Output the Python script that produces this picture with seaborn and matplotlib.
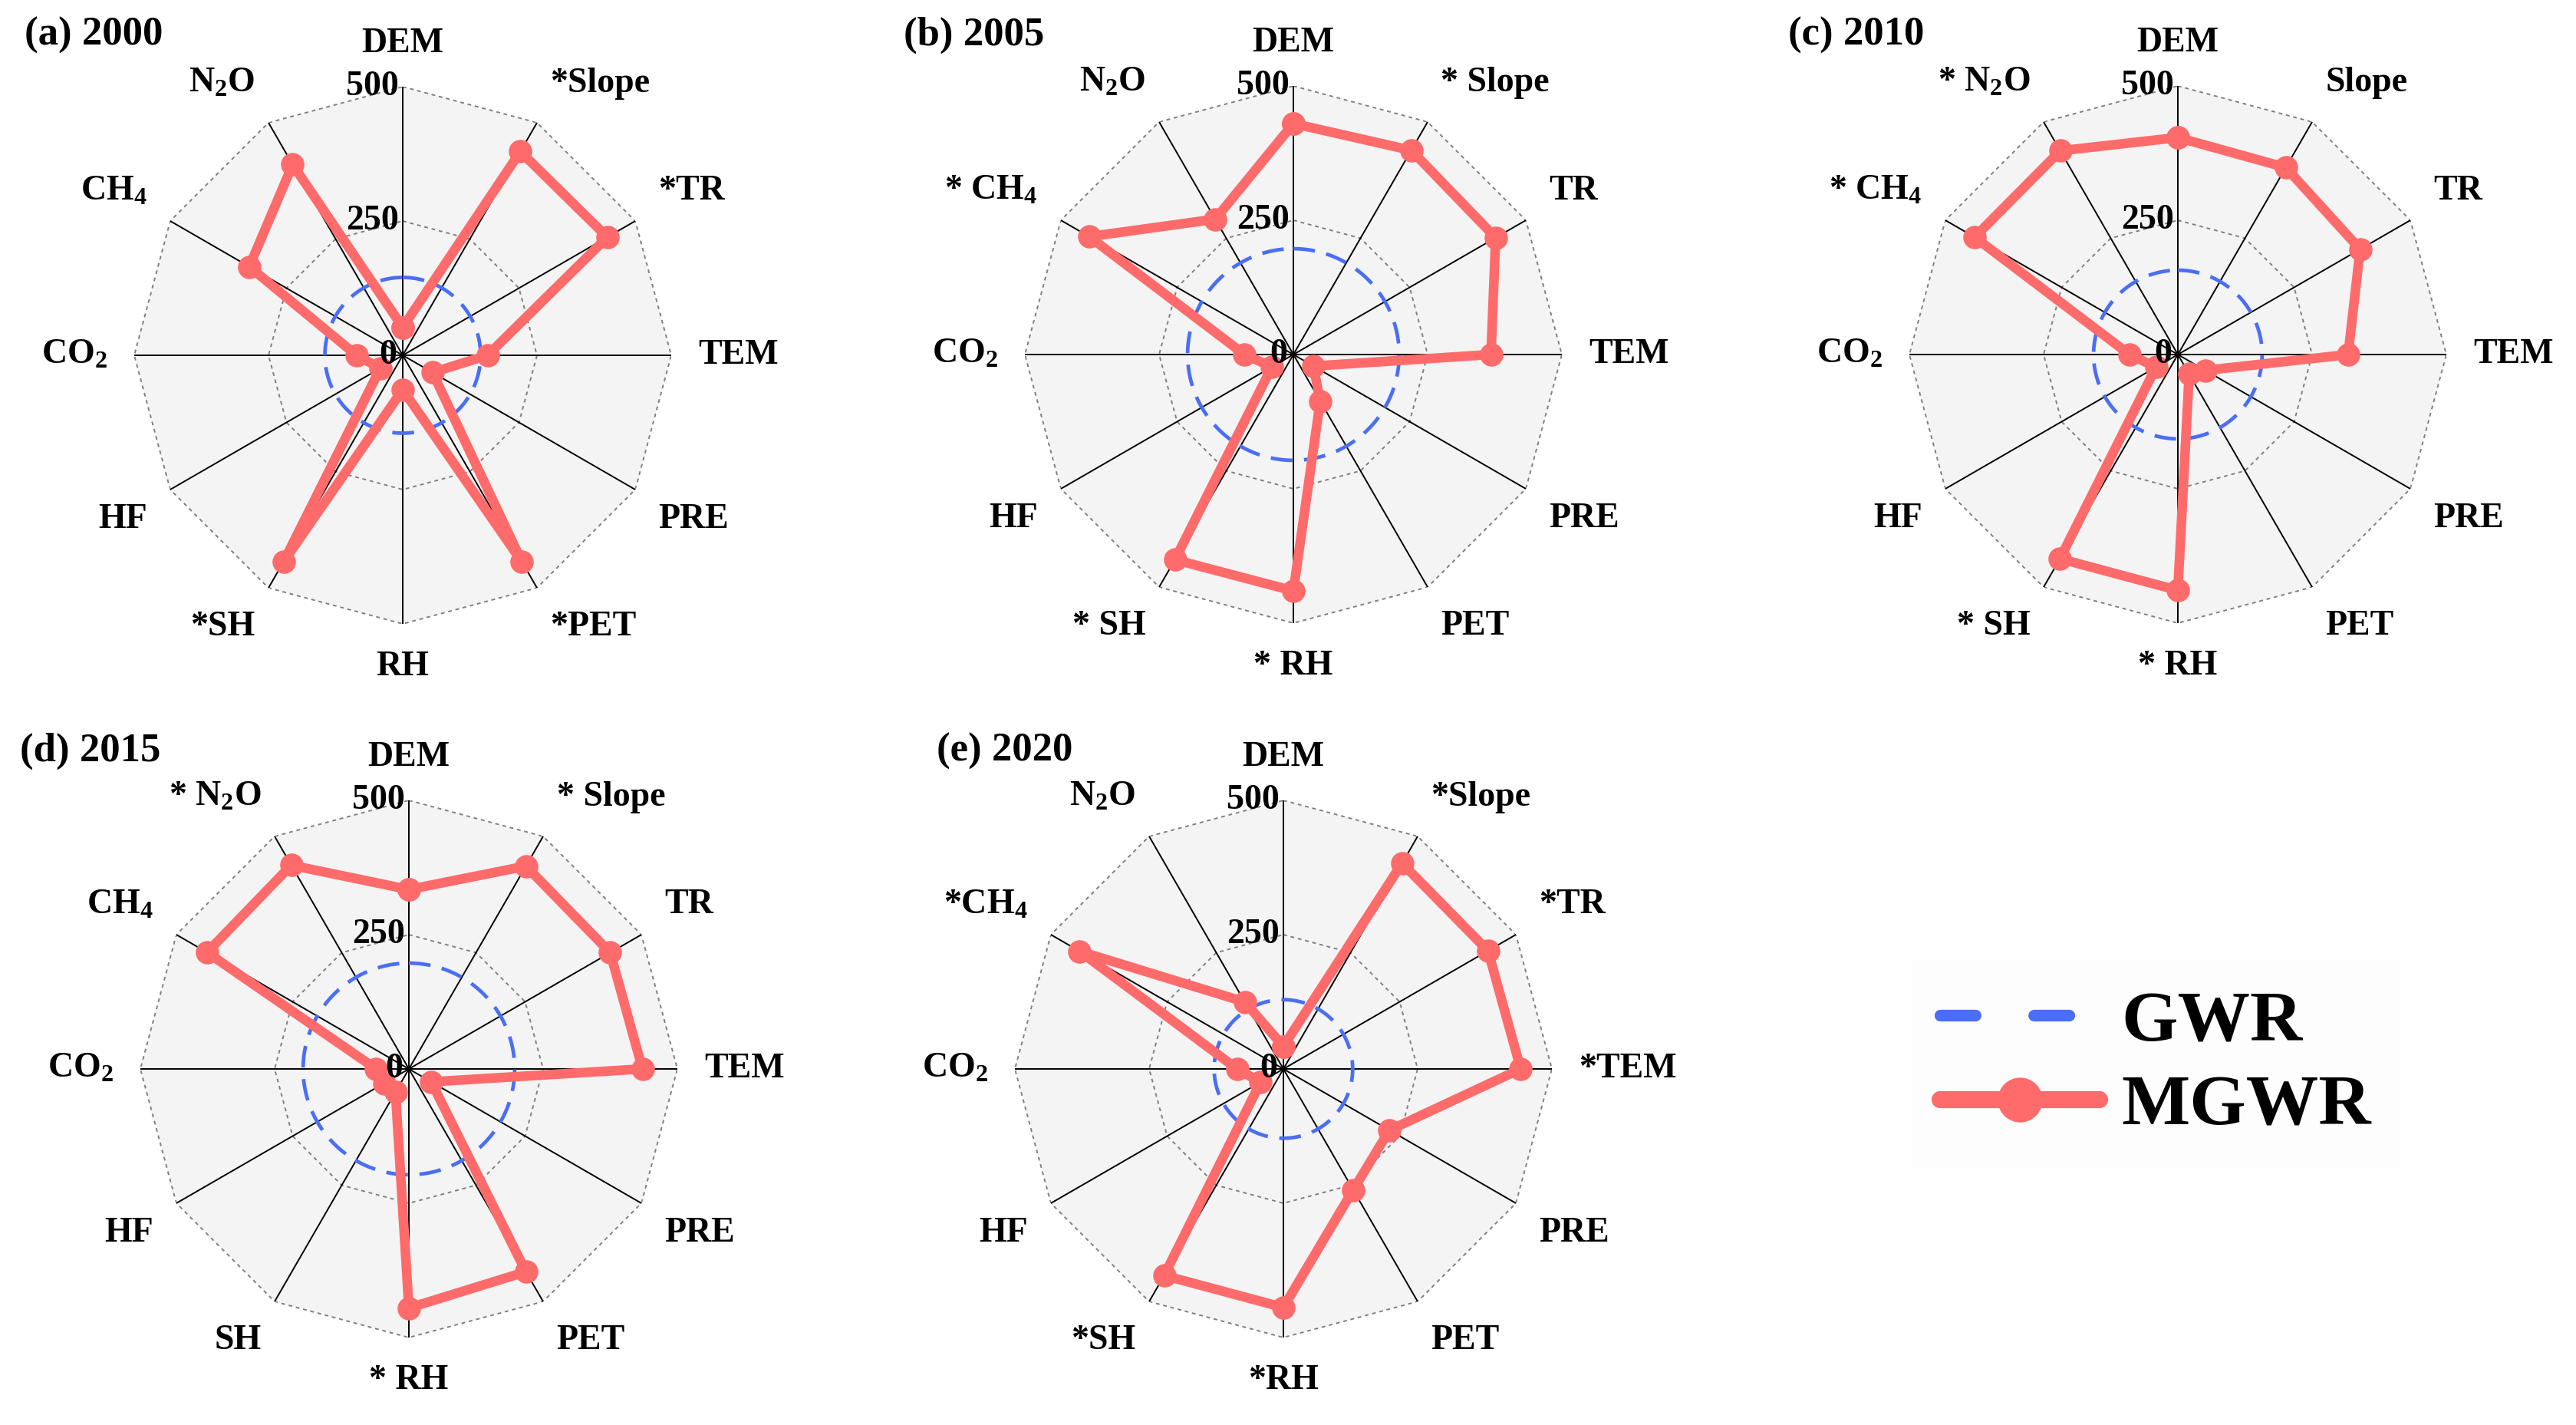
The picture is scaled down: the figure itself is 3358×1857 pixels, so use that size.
import numpy as np
import pandas as pd
import seaborn as sns
import matplotlib.pyplot as plt
from matplotlib.lines import Line2D

# factor order, clockwise from the top
factors = ['DEM', 'Slope', 'TR', 'TEM', 'PRE', 'PET', 'RH', 'SH', 'HF', 'CO2', 'CH4', 'N2O']

titles = ['(a) 2000', '(b) 2005', '(c) 2010', '(d) 2015', '(e) 2020']

labels_2000 = ['DEM', '*Slope', '*TR', 'TEM', 'PRE', '*PET', 'RH', '*SH', 'HF', 'CO$_2$', 'CH$_4$', 'N$_2$O']
labels_2005 = ['DEM', '* Slope', 'TR', 'TEM', 'PRE', 'PET', '* RH', '* SH', 'HF', 'CO$_2$', '* CH$_4$', 'N$_2$O']
labels_2010 = ['DEM', 'Slope', 'TR', 'TEM', 'PRE', 'PET', '* RH', '* SH', 'HF', 'CO$_2$', '* CH$_4$', '* N$_2$O']
labels_2015 = ['DEM', '* Slope', 'TR', 'TEM', 'PRE', 'PET', '* RH', 'SH', 'HF', 'CO$_2$', 'CH$_4$', '* N$_2$O']
labels_2020 = ['DEM', '*Slope', '*TR', '*TEM', 'PRE', 'PET', '*RH', '*SH', 'HF', 'CO$_2$', '*CH$_4$', 'N$_2$O']

# MGWR bandwidths per factor
mgwr_2000 = [52, 438, 440, 158, 64, 444, 64, 443, 48, 86, 330, 410]
mgwr_2005 = [430, 439, 435, 368, 43, 100, 440, 441, 46, 91, 439, 291]
mgwr_2010 = [404, 402, 392, 317, 59, 42, 439, 439, 47, 90, 437, 438]
mgwr_2015 = [334, 436, 433, 435, 48, 436, 445, 50, 53, 61, 434, 438]
mgwr_2020 = [42, 442, 440, 442, 228, 260, 444, 444, 49, 86, 438, 144]

# GWR uses one bandwidth for all factors
gwr = [145, 197, 157, 197, 129]

all_labels = [labels_2000, labels_2005, labels_2010, labels_2015, labels_2020]
all_mgwr = [mgwr_2000, mgwr_2005, mgwr_2010, mgwr_2015, mgwr_2020]

# panel centres in pixels of the 3358x1857 canvas
centres = [(525, 463), (1686, 462), (2839, 462), (533, 1393), (1673, 1393)]
title_pos = [(32, 22), (1178, 22), (2331, 22), (26, 955), (1221, 955)]

red = '#ff6b6b'
blue = '#4a6ef5'

sns.set_theme(style='white')
plt.rcParams['font.family'] = ['Liberation Serif', 'DejaVu Serif']
plt.rcParams['font.weight'] = 'bold'
plt.rcParams['text.color'] = 'black'
plt.rcParams['mathtext.fontset'] = 'custom'
plt.rcParams['mathtext.rm'] = 'Liberation Serif:bold'
plt.rcParams['mathtext.it'] = 'Liberation Serif:bold:italic'
plt.rcParams['mathtext.bf'] = 'Liberation Serif:bold'
plt.rcParams['mathtext.default'] = 'rm'

W, H = 3358, 1857
fig = plt.figure(figsize=(W / 200, H / 200), dpi=200)
fig.patch.set_facecolor('white')

angles = np.deg2rad(np.arange(len(factors)) * 30.0)
closed = np.append(angles, 2 * np.pi)
dense = np.linspace(0, 2 * np.pi, 361)

# alignment of the factor names around the web
align = {0: ('center', 'bottom'), 30: ('left', 'bottom'), 60: ('left', 'bottom'),
         90: ('left', 'center'), 120: ('left', 'top'), 150: ('left', 'top'),
         180: ('center', 'top'), 210: ('right', 'top'), 240: ('right', 'top'),
         270: ('right', 'center'), 300: ('right', 'bottom'), 330: ('right', 'bottom')}

radius_px = 350
for k in range(5):
    cx, cy = centres[k]
    w = 2 * radius_px / W
    h = 2 * radius_px / H
    ax = fig.add_axes([cx / W - w / 2, 1 - cy / H - h / 2, w, h], projection='polar')
    ax.set_theta_zero_location('N')
    ax.set_theta_direction(-1)
    ax.set_ylim(0, 500)
    ax.grid(False)
    ax.set_xticks([])
    ax.set_yticks([])
    ax.spines['polar'].set_visible(False)
    ax.set_facecolor('none')

    # web background
    ax.fill(closed, [500] * len(closed), color='#f4f4f4', zorder=0, lw=0)
    for ring in [250, 500]:
        ax.plot(closed, [ring] * len(closed), color='#808080', lw=0.7, ls=(0, (2.5, 2.5)), zorder=1)
    for a in angles:
        ax.plot([a, a], [0, 500], color='black', lw=0.7, zorder=1)

    df_gwr = pd.DataFrame({'theta': dense, 'bw': np.full(len(dense), gwr[k])})
    sns.lineplot(data=df_gwr, x='theta', y='bw', ax=ax, sort=False, estimator=None,
                 color=blue, lw=1.7, linestyle=(0, (6, 3.2)), zorder=3)

    vals = all_mgwr[k]
    df_m = pd.DataFrame({'theta': closed, 'bw': vals + [vals[0]]})
    sns.lineplot(data=df_m, x='theta', y='bw', ax=ax, sort=False, estimator=None,
                 color=red, lw=4.5, marker='o', markersize=11, markeredgewidth=0, zorder=4)
    ax.set_xlabel('')
    ax.set_ylabel('')

    for i, lab in enumerate(all_labels[k]):
        ha, va = align[i * 30]
        ax.text(angles[i], 550, lab, ha=ha, va=va, fontsize=16.5, fontweight='bold', color='black')

    for v in [500, 250]:
        ax.annotate(str(v), xy=(0, v), xytext=(-2, 0), textcoords='offset points', color='black',
                    ha='right', va='center', fontsize=16.5, fontweight='bold', zorder=6)
    ax.annotate('0', xy=(0, 0), xytext=(-3, 0), textcoords='offset points', color='black',
                ha='right', va='center', fontsize=16.5, fontweight='bold', zorder=6)

    tx, ty = title_pos[k]
    fig.text(tx / W, 1 - ty / H, titles[k], ha='left', va='top', fontsize=19,
             fontweight='bold', color='black')

handles = [Line2D([], [], color=blue, lw=5.5, linestyle=(0, (3, 5)), dash_capstyle='round'),
           Line2D([], [], color=red, lw=8, marker='o', markersize=20, solid_capstyle='round')]
leg = fig.legend(handles, ['GWR', 'MGWR'], loc='center', bbox_to_anchor=(2810 / W, 1 - 1388 / H),
                 fontsize=34, frameon=True, facecolor='#fdfdfd', edgecolor='none', framealpha=1,
                 fancybox=False, handlelength=2.2, handletextpad=0.3, labelspacing=0.25, borderpad=0.4)
for t in leg.get_texts():
    t.set_color('black')

fig.savefig('out.png', dpi=200)
